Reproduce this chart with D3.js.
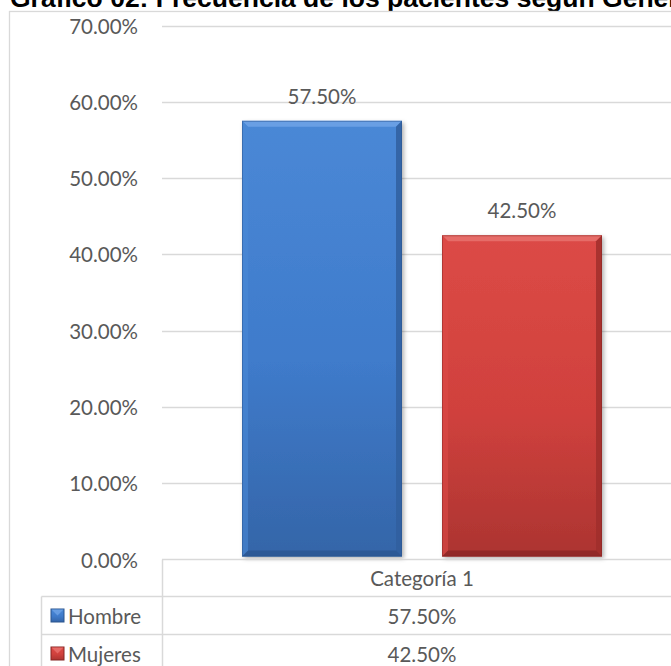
<!DOCTYPE html>
<html><head><meta charset="utf-8">
<script src="https://cdn.jsdelivr.net/npm/d3@7"></script>
<style>html,body{margin:0;padding:0;background:#fff;overflow:hidden}</style>
</head><body>
<svg id="c" width="671" height="666"></svg>
<script>
const title = "Gráfico 02: Frecuencia de los pacientes según Género";
const categories = ["Categoría 1"];
const seriesNames = ["Hombre", "Mujeres"];
const hombreValues = [0.575];
const mujeresValues = [0.425];
const yTicks = [0, 0.1, 0.2, 0.3, 0.4, 0.5, 0.6, 0.7];
const seriesValues = [hombreValues, mujeresValues];
const palette = {
  Hombre: {top:"#4a88d6", mid:"#3f7bcb", bot:"#3465a8", hi:"#6ea3e6", lo:"#2a548e", side:"#305f9f"},
  Mujeres:{top:"#dc4a46", mid:"#d0413d", bot:"#ac3431", hi:"#e8726e", lo:"#862523", side:"#a02e2c"}
};

const svg = d3.select("#c");
const W = 671, H = 666;
const font = "Lato, 'Open Sans', sans-serif";
const txt = "#595959", grid = "#d9d9d9";
svg.append("rect").attr("width",W).attr("height",H).attr("fill","#fff");

const defs = svg.append("defs");
seriesNames.forEach(s=>{
  const g = defs.append("linearGradient").attr("id","g"+s).attr("x1",0).attr("y1",0).attr("x2",0).attr("y2",1);
  g.append("stop").attr("offset","0%").attr("stop-color",palette[s].top);
  g.append("stop").attr("offset","55%").attr("stop-color",palette[s].mid);
  g.append("stop").attr("offset","100%").attr("stop-color",palette[s].bot);
});
const f = defs.append("filter").attr("id","sh").attr("x","-10%").attr("y","-10%").attr("width","130%").attr("height","130%");
f.append("feDropShadow").attr("dx",2).attr("dy",2).attr("stdDeviation",2).attr("flood-color","#000").attr("flood-opacity",0.3);

// title
svg.append("text").attr("x",10).attr("y",7).text(title)
  .attr("font-family","'Liberation Sans', Arial, sans-serif").attr("font-weight","bold")
  .attr("font-size",26.5).attr("fill","#000");

// outer border
svg.append("rect").attr("x",9.5).attr("y",11.5).attr("width",700).attr("height",700)
  .attr("fill","none").attr("stroke",grid).attr("stroke-width",1.3);

const plotL = 162, plotR = 682;
const y = d3.scaleLinear().domain([0,0.7]).range([559.5,25.5]);
const x0 = d3.scaleBand().domain(categories).range([plotL,plotR]).paddingOuter(0).paddingInner(0);
const bandInset = (x0.bandwidth()*80/520);
const x1 = d3.scaleBand().domain(seriesNames).range([bandInset, x0.bandwidth()-bandInset]).paddingInner(0.2).paddingOuter(0);

// gridlines
svg.append("g").selectAll("line").data(yTicks.filter(t=>t>0)).join("line")
  .attr("x1",plotL).attr("x2",W).attr("y1",d=>Math.round(y(d))+0.5).attr("y2",d=>Math.round(y(d))+0.5)
  .attr("stroke",grid).attr("stroke-width",1.5);

// y axis labels
const fmt = d=>(d*100).toFixed(2)+"%";
svg.append("g").selectAll("text").data(yTicks).join("text")
  .attr("x",138).attr("y",d=>y(d)).attr("text-anchor","end").attr("dominant-baseline","central")
  .attr("font-family",font).attr("font-size",20.5).attr("fill",txt).text(fmt);

// bars
const bars = [];
categories.forEach((c,ci)=>seriesNames.forEach((s,si)=>bars.push({c,s,v:seriesValues[si][ci]})));
const bg = svg.append("g");
bars.forEach(b=>{
  const bx = x0(b.c)+x1(b.s), bw = x1.bandwidth(), by = y(b.v), bb = y(0)-3, bh = bb-by;
  const g = bg.append("g");
  const p = palette[b.s], e = 6;
  g.append("rect").attr("x",bx).attr("y",by).attr("width",bw).attr("height",bh)
    .attr("fill","url(#g"+b.s+")").attr("filter","url(#sh)");
  // bevels
  g.append("polygon").attr("points",[[bx,by],[bx+bw,by],[bx+bw-e,by+e],[bx+e,by+e]].join(" ")).attr("fill",p.hi).attr("opacity",0.85);
  g.append("polygon").attr("points",[[bx+bw,by],[bx+bw,bb],[bx+bw-e,bb-e],[bx+bw-e,by+e]].join(" ")).attr("fill",p.side).attr("opacity",0.85);
  g.append("polygon").attr("points",[[bx,bb],[bx+bw,bb],[bx+bw-e,bb-e],[bx+e,bb-e]].join(" ")).attr("fill",p.lo).attr("opacity",0.7);
  g.append("polygon").attr("points",[[bx,by],[bx+e,by+e],[bx+e,bb-e],[bx,bb]].join(" ")).attr("fill",p.top).attr("opacity",0.6);
  g.append("rect").attr("x",bx+0.5).attr("y",by+0.5).attr("width",bw-1).attr("height",bh-1)
    .attr("fill","none").attr("stroke",p.lo).attr("stroke-opacity",0.5);
  // data label
  svg.append("text").attr("x",bx+bw/2).attr("y",by-17).attr("text-anchor","middle")
    .attr("font-family",font).attr("font-size",20.5).attr("fill",txt).text(fmt(b.v));
});

// data table
const rowTop = [559.5, 596.5, 634.5, 672.5];
const legL = 41.5;
const tg = svg.append("g").attr("stroke",grid).attr("stroke-width",1.5);
tg.append("line").attr("x1",plotL).attr("x2",W).attr("y1",rowTop[0]).attr("y2",rowTop[0]);
tg.append("line").attr("x1",legL).attr("x2",W).attr("y1",rowTop[1]).attr("y2",rowTop[1]);
tg.append("line").attr("x1",legL).attr("x2",W).attr("y1",rowTop[2]).attr("y2",rowTop[2]);
tg.append("line").attr("x1",plotL+0.5).attr("x2",plotL+0.5).attr("y1",rowTop[0]).attr("y2",H);
tg.append("line").attr("x1",legL).attr("x2",legL).attr("y1",rowTop[1]).attr("y2",H);

svg.append("g").selectAll("text").data(categories).join("text")
  .attr("x",d=>x0(d)+x0.bandwidth()/2).attr("y",(rowTop[0]+rowTop[1])/2)
  .attr("text-anchor","middle").attr("dominant-baseline","central")
  .attr("font-family",font).attr("font-size",20.5).attr("fill",txt).text(d=>d);

seriesNames.forEach((s,si)=>{
  const cy = (rowTop[si+1]+rowTop[si+2])/2;
  const p = palette[s];
  svg.append("rect").attr("x",51).attr("y",cy-6.5).attr("width",13).attr("height",13)
    .attr("fill","url(#g"+s+")").attr("stroke",p.lo).attr("stroke-width",1);
  svg.append("polygon").attr("points",[[51.5,cy-6],[63.5,cy-6],[57.5,cy]].join(" ")).attr("fill",p.hi).attr("opacity",0.8);
  svg.append("text").attr("x",68).attr("y",cy).attr("dominant-baseline","central")
    .attr("font-family",font).attr("font-size",20.5).attr("fill",txt).text(s);
  categories.forEach((c,ci)=>{
    svg.append("text").attr("x",x0(c)+x0.bandwidth()/2).attr("y",cy)
      .attr("text-anchor","middle").attr("dominant-baseline","central")
      .attr("font-family",font).attr("font-size",20.5).attr("fill",txt).text(fmt(seriesValues[si][ci]));
  });
});
</script>
</body></html>
